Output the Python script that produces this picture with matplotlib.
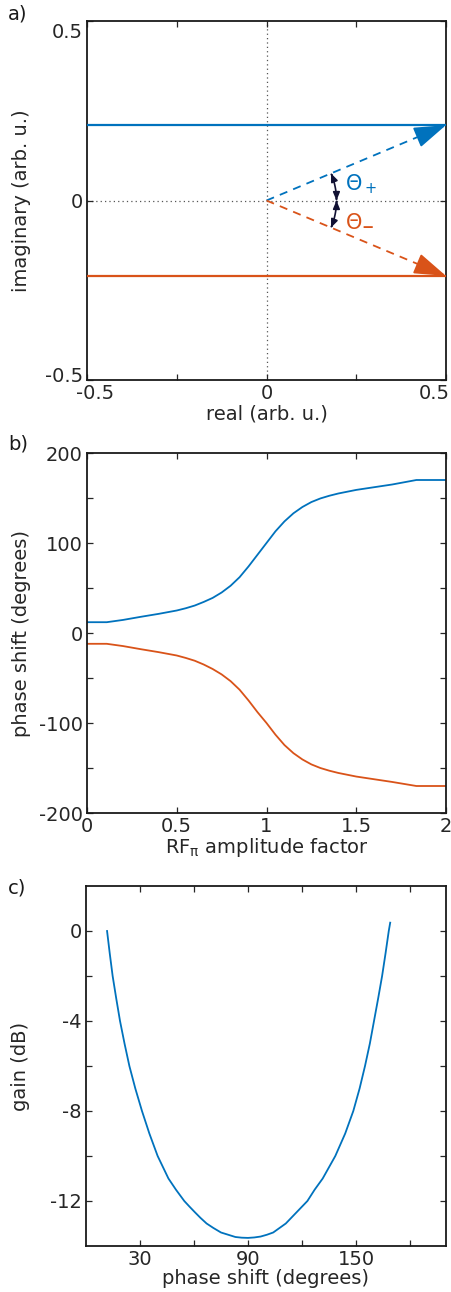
import numpy as np
import matplotlib
matplotlib.use("Agg")
import matplotlib.pyplot as plt
import matplotlib.transforms as mtransforms
from matplotlib.patches import FancyArrowPatch
from matplotlib.path import Path

plt.rcParams['font.family'] = ['DejaVu Sans']
plt.rcParams['axes.unicode_minus'] = False
plt.rcParams['mathtext.fontset'] = 'dejavusans'

BLUE = '#0072BD'
ORANGE = '#D95319'

# ---- panel a data ----
phasor_tip_x = 0.5
phasor_plus_y = 0.21
phasor_minus_y = -0.21
arc_radius = 0.195
label_plus = 'Θ$_+$'
label_minus = 'Θ$_{\\mathbf{-}}$'
a_xticks = [-0.5, -0.25, 0, 0.25, 0.5]
a_xticklabels = ['-0.5', '', '0', '', '0.5']
a_yticks = [-0.5, 0, 0.5]
a_yticklabels = ['-0.5', '0', '0.5']

# ---- panel b data ----
b_x = [0, 0.11, 0.2, 0.3, 0.4, 0.5, 0.55, 0.6, 0.65, 0.7, 0.75, 0.8, 0.85, 0.9, 0.95,
       1.0, 1.05, 1.1, 1.15, 1.2, 1.25, 1.3, 1.35, 1.4, 1.5, 1.6, 1.7, 1.835, 2.0]
b_y_plus = [12, 12, 14.5, 18, 21.3, 25, 27.5, 30.5, 34.5, 39, 45, 52.5, 62, 74, 87,
            100, 113, 124, 133, 140, 145.5, 149.5, 152.5, 155, 159, 162, 165, 170, 170]
b_y_minus = [-12, -12, -14.5, -18, -21.3, -25, -27.7, -30.8, -35, -40, -46, -53.5, -63, -75, -88,
             -100, -113, -124.5, -133.5, -140.5, -146, -150, -153, -155.5, -159.5, -162.5, -165.5, -170, -170]
b_xticks = [0, 0.5, 1, 1.5, 2]
b_xticklabels = ['0', '0.5', '1', '1.5', '2']
b_yticks = [-200, -150, -100, -50, 0, 50, 100, 150, 200]
b_yticklabels = ['-200', '', '-100', '', '0', '', '100', '', '200']

# ---- panel c data ----
c_phase = [11.7, 13.2, 14.8, 16.8, 18.9, 21.4, 24.1, 27.4, 31.1, 35.2, 39.8, 45.8, 50.0,
           54.6, 57.5, 60.5, 63.6, 67, 70.8, 75, 79, 83, 86.5, 90,
           93.5, 97, 100.5, 104, 107.5, 111, 114, 117, 120, 123, 127, 131.5, 138.5, 144, 148.5,
           152, 155, 157.7, 160, 162.3, 164.5, 166.4, 168.2, 169]
c_gain = [0, -1, -2, -3, -4, -5, -6, -7, -8, -9, -10, -11, -11.5,
          -12, -12.25, -12.5, -12.75, -13, -13.2, -13.4, -13.5, -13.6, -13.63, -13.64,
          -13.62, -13.58, -13.5, -13.4, -13.2, -13.0, -12.75, -12.5, -12.25, -12, -11.5, -11, -10, -9, -8,
          -7, -6, -5, -4, -3, -2, -1, 0, 0.37]
c_xticks = [30, 60, 90, 120, 150, 180]
c_xticklabels = ['30', '', '90', '', '150', '']
c_yticks = [-12, -10, -8, -6, -4, -2, 0]
c_yticklabels = ['-12', '', '-8', '', '-4', '', '0']

W, H = 451, 1292
fig = plt.figure(figsize=(W / 100, H / 100), dpi=100)

FS = 14


def rect(l, t, r, b):
    return [l / W, 1 - b / H, (r - l) / W, (b - t) / H]


def style(ax):
    for s in ax.spines.values():
        s.set_linewidth(1.3)
        s.set_color('#1a1a1a')
    ax.tick_params(direction='in', length=4, width=0.9, top=True, right=True,
                   labelsize=FS, pad=3, colors='#262626')
    ax.yaxis.set_label_coords(-0.155, 0.5)


def shift(label, dx_px, dy_px):
    label.set_transform(label.get_transform() +
                        mtransforms.ScaledTranslation(dx_px / 100, dy_px / 100, fig.dpi_scale_trans))


# ---------------- panel a ----------------
axa = fig.add_axes(rect(87, 21, 446, 380))
axa.set_xlim(-0.5, 0.5)
axa.set_ylim(-0.5, 0.5)
axa.axvline(0, color='#555555', ls=(0, (1, 2.5)), lw=0.9, zorder=1)
axa.axhline(0, color='#555555', ls=(0, (1, 2.5)), lw=0.9, zorder=1)

for yv, col in [(phasor_plus_y, BLUE), (phasor_minus_y, ORANGE)]:
    axa.plot([-0.5, phasor_tip_x], [yv, yv], color=col, lw=1.6, zorder=3)
    frac = 0.93
    axa.plot([0, phasor_tip_x * frac], [0, yv * frac], color=col, lw=1.3,
             ls=(0, (4.5, 3.5)), zorder=3)
    axa.annotate('', xy=(phasor_tip_x, yv), xytext=(phasor_tip_x * 0.9, yv * 0.9),
                 arrowprops=dict(arrowstyle='-|>,head_length=1.0,head_width=0.33',
                                 color=col, lw=1.3, mutation_scale=20,
                                 shrinkA=0, shrinkB=0), zorder=4)

theta = np.arctan2(phasor_plus_y, phasor_tip_x)
for sgn in (1, -1):
    t = np.linspace(sgn * theta, 0, 30)
    verts = np.column_stack([arc_radius * np.cos(t), arc_radius * np.sin(t)])
    p = FancyArrowPatch(path=Path(verts), arrowstyle='<|-|>,head_length=0.6,head_width=0.25',
                        color='#111133', lw=1.2, mutation_scale=8, zorder=5)
    axa.add_patch(p)

axa.text(0.218, 0.045, label_plus, color=BLUE, fontsize=15, va='center', ha='left')
axa.text(0.218, -0.055, label_minus, color=ORANGE, fontsize=15, va='center', ha='left')

axa.set_xticks(a_xticks)
axa.set_xticklabels(a_xticklabels)
axa.set_yticks(a_yticks)
axa.set_yticklabels(a_yticklabels)
style(axa)
xl = axa.get_xticklabels()
shift(xl[0], 8, 0)
shift(xl[-1], -12, 0)
yl = axa.get_yticklabels()
shift(yl[0], 0, 6)
shift(yl[-1], 0, -10)
axa.set_xlabel('real (arb. u.)', fontsize=FS, labelpad=1, color='#262626')
axa.set_ylabel('imaginary (arb. u.)', fontsize=FS, color='#262626')

# ---------------- panel b ----------------
axb = fig.add_axes(rect(87, 453, 446, 813))
axb.plot(b_x, b_y_plus, color=BLUE, lw=1.3)
axb.plot(b_x, b_y_minus, color=ORANGE, lw=1.3)
axb.set_xlim(0, 2)
axb.set_ylim(-200, 200)
axb.set_xticks(b_xticks)
axb.set_xticklabels(b_xticklabels)
axb.set_yticks(b_yticks)
axb.set_yticklabels(b_yticklabels)
style(axb)
axb.set_xlabel('RF$_\\mathrm{\\pi}$ amplitude factor', fontsize=FS, labelpad=0, color='#262626')
axb.set_ylabel('phase shift (degrees)', fontsize=FS, color='#262626')

# ---------------- panel c ----------------
axc = fig.add_axes(rect(86, 886, 446, 1246))
axc.plot(c_phase, c_gain, color=BLUE, lw=1.3)
axc.set_xlim(0, 200)
axc.set_ylim(-14, 2)
axc.set_xticks(c_xticks)
axc.set_xticklabels(c_xticklabels)
axc.set_yticks(c_yticks)
axc.set_yticklabels(c_yticklabels)
style(axc)
axc.set_xlabel('phase shift (degrees)', fontsize=FS, labelpad=0, color='#262626')
axc.set_ylabel('gain (dB)', fontsize=FS, color='#262626')

for lab, ytop in [('a)', 4), ('b)', 434), ('c)', 879)]:
    fig.text(8 / W, 1 - ytop / H, lab, fontsize=FS, va='top', ha='left', color='#1a1a1a')

fig.savefig('out.png', dpi=100)
